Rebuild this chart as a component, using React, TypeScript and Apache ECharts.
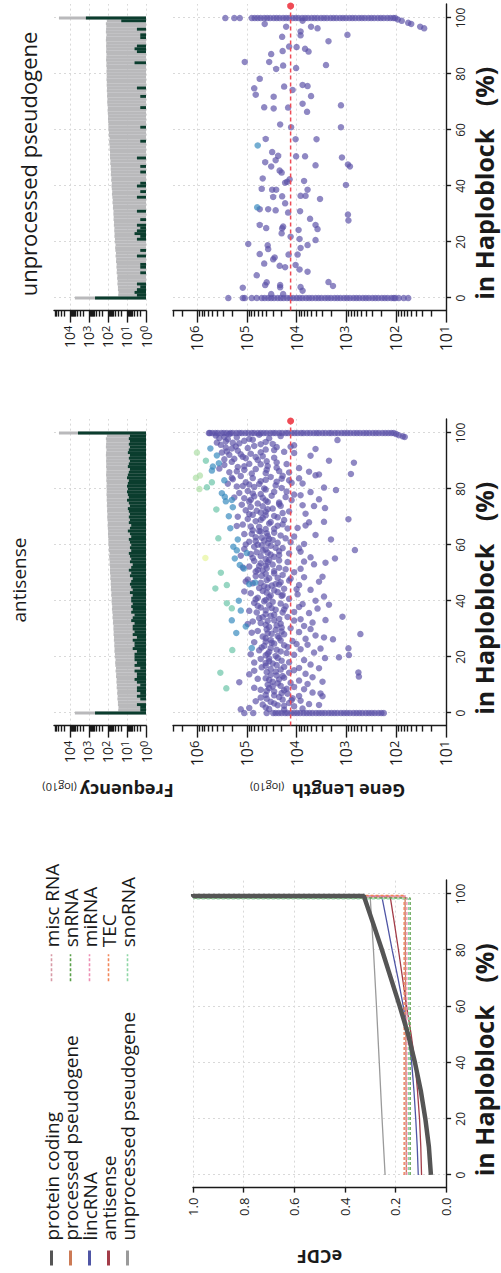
import React, { useEffect, useRef } from 'react';
import * as echarts from 'echarts';

// The figure is laid out in landscape (1273 x 501) and turned a quarter turn
// counter-clockwise to fill the 501 x 1273 page, as in the reference.
const PAGE_W = 501;
const PAGE_H = 1273;
const FIG_W = 1273;
const FIG_H = 501;

const FONT = 'Open Sans';
const INK = '#1a1a1a';
const PURPLE = '#5a4fa6';
const BLUE = '#3288bd';
const TEAL = '#66c2a5';
const LIGHT_GREEN = '#abdda4';
const YELLOW = '#e6f598';
const RED = '#ef4b55';
const BAR_GRAY = '#b9b9bb';
const BAR_GREEN = '#0b3d2e';

// ---------------- eCDF panel ----------------
const ecdfNames = [
  'protein coding', 'processed pseudogene', 'lincRNA', 'antisense', 'unprocessed pseudogene',
  'misc RNA', 'snRNA', 'miRNA', 'TEC', 'snoRNA',
];
const ecdfColors = ['#555555', '#cc7a55', '#4f55a5', '#a33c48', '#9a9a9a', '#d89aa6', '#5aa04a', '#ee8fb4', '#f2875a', '#8fd6a6'];

const ecdfProteinCoding = [[0, 0.06], [10, 0.068], [20, 0.082], [30, 0.1], [40, 0.123], [50, 0.15], [60, 0.183], [70, 0.218], [80, 0.253], [90, 0.29], [99.3, 0.325], [99.3, 1.0], [100, 1.0]];
const ecdfProcessedPseudogene = [[0, 0.157], [50, 0.159], [99.0, 0.162], [99.0, 1.0]];
const ecdfLincRNA = [[0, 0.11], [10, 0.114], [20, 0.12], [30, 0.127], [40, 0.136], [50, 0.15], [60, 0.169], [70, 0.19], [80, 0.213], [90, 0.234], [99.2, 0.254], [99.2, 1.0]];
const ecdfAntisense = [[0, 0.097], [10, 0.1], [20, 0.105], [30, 0.113], [40, 0.123], [50, 0.138], [60, 0.156], [70, 0.172], [80, 0.188], [90, 0.205], [99.2, 0.221], [99.2, 1.0]];
const ecdfUnprocessedPseudogene = [[0, 0.241], [20, 0.253], [40, 0.264], [60, 0.275], [80, 0.287], [99.1, 0.3], [99.1, 1.0]];
const ecdfMiscRNA = [[0, 0.163], [99.0, 0.163], [99.0, 1.0]];
const ecdfSnRNA = [[0, 0.142], [98.6, 0.142], [98.6, 1.0]];
const ecdfMiRNA = [[0, 0.155], [99.3, 0.155], [99.3, 1.0]];
const ecdfTEC = [[0, 0.166], [99.5, 0.166], [99.5, 1.0]];
const ecdfSnoRNA = [[0, 0.148], [98.3, 0.148], [98.3, 1.0]];
const ecdfData = [ecdfProteinCoding, ecdfProcessedPseudogene, ecdfLincRNA, ecdfAntisense, ecdfUnprocessedPseudogene, ecdfMiscRNA, ecdfSnRNA, ecdfMiRNA, ecdfTEC, ecdfSnoRNA];

// ---------------- axes ----------------
const haploTicks = [0, 20, 40, 60, 80, 100];
const freqDecades = [0, 1, 2, 3, 4];          // log10 frequency
const geneDecades = [1, 2, 3, 4, 5, 6];       // log10 gene length

// ---------------- frequency bars (one bin per % in haploblock) ----------------
const bins = Array.from({ length: 101 }, (_, i) => i);
const allGenesCounts = [
  5500,
  29, 28, 30, 30, 32, 31, 33, 32, 35, 34,
  36, 35, 38, 37, 40, 38, 41, 42, 40, 44,
  43, 46, 45, 47, 46, 49, 48, 51, 50, 52,
  51, 55, 54, 58, 56, 59, 62, 60, 63, 65,
  63, 68, 66, 71, 69, 72, 71, 76, 74, 78,
  79, 78, 83, 81, 85, 87, 83, 91, 89, 93,
  95, 93, 98, 100, 98, 102, 105, 102, 107, 110,
  107, 112, 110, 115, 112, 117, 115, 120, 117, 117,
  120, 117, 123, 120, 126, 123, 120, 126, 123, 126,
  123, 129, 126, 120, 129, 126, 123, 129, 115,
  38000,
];
const antisenseCounts = [
  480,
  2, 2, 3, 1, 2, 3, 2, 3, 3, 2,
  3, 4, 3, 3, 4, 2, 4, 3, 4, 4,
  4, 3, 5, 4, 4, 5, 3, 5, 4, 5,
  5, 4, 6, 5, 4, 6, 5, 6, 5, 6,
  6, 5, 7, 5, 6, 7, 6, 5, 7, 6,
  8, 6, 5, 7, 6, 7, 8, 6, 7, 6,
  7, 8, 6, 7, 9, 7, 6, 8, 7, 8,
  7, 8, 9, 7, 8, 10, 8, 9, 10, 9,
  10, 9, 8, 10, 9, 8, 7, 9, 8, 7,
  8, 7, 9, 8, 7, 8, 7, 8, 7,
  3800,
];
const unprocessedCounts = [
  480,
  3, 4, 3, 2, 3, 1, 0, 1, 2, 1,
  2, 2, 1, 1, 3, 1, 2, 1, 1, 1,
  3, 2, 4, 3, 2, 3, 1, 2, 1, 1,
  3, 1, 1, 0, 1, 3, 1, 2, 1, 3,
  2, 1, 1, 1, 2, 1, 2, 1, 1, 3,
  1, 1, 0, 1, 1, 2, 1, 0, 1, 1,
  2, 1, 0, 1, 1, 1, 1, 2, 1, 1,
  1, 2, 1, 1, 3, 1, 1, 1, 0, 1,
  1, 1, 1, 4, 1, 1, 1, 3, 4, 3,
  1, 1, 2, 2, 1, 3, 1, 1, 20,
  1450,
];

// ---------------- gene length scatter (x = % in haploblock, y = log10 gene length) ----------------
const antisenseAt100 = [5.76, 5.74, 5.69, 5.63, 5.58, 5.51, 5.46, 5.4, 5.33, 5.28, 5.21, 5.15, 5.1, 5.03, 4.97, 4.9, 4.85, 4.78, 4.72, 4.66, 4.6, 4.53, 4.47, 4.42, 4.35, 4.29, 4.22, 4.17, 4.1, 4.04, 3.98, 3.91, 3.86, 3.79, 3.73, 3.66, 3.6, 3.55, 3.48, 3.42, 3.35, 3.3, 3.23, 3.17, 3.1, 3.04, 2.98, 2.92, 2.85, 2.79, 2.73, 2.66, 2.6, 2.54, 2.47, 2.41, 2.35, 2.28, 2.22, 2.16, 2.1, 2.05];
const antisenseAt0 = [5.05, 4.87, 4.6, 4.47, 4.42, 4.36, 4.3, 4.23, 4.18, 4.11, 4.05, 3.99, 3.93, 3.86, 3.8, 3.74, 3.68, 3.61, 3.55, 3.49, 3.43, 3.36, 3.3, 3.24, 3.18, 3.11, 3.05, 2.99, 2.93, 2.86, 2.8, 2.74, 2.68, 2.61, 2.55, 2.49, 2.43, 2.36, 2.3, 2.25];
const antisenseTail = [[99.6, 2.0], [99.2, 1.95], [98.8, 1.87], [98.6, 1.83]];
const antisenseCloud = [
  [99.1, 5.62], [98.6, 5.45], [98.2, 5.55], [97.8, 5.38], [97.5, 3.18], [97.2, 5.05], [96.8, 4.62], [96.5, 5.28], [96.1, 4.48], [95.8, 5.52], [95.4, 4.85], [95.1, 4.12], [99.4, 4.75], [98.9, 4.32], [97.9, 4.95], [96.3, 5.15], [95.6, 4.05],
  [94.8, 5.42], [94.5, 5.3], [94.1, 4.62], [93.7, 5.18], [93.3, 4.25], [93.0, 5.5], [92.6, 4.92], [92.2, 5.35], [91.9, 3.72], [91.5, 5.08], [91.2, 4.45], [90.8, 5.25], [90.4, 4.78], [90.1, 3.35], [92.9, 4.05], [94.3, 3.62], [91.7, 4.68],
  [89.7, 5.3], [89.4, 2.85], [89.0, 4.95], [88.6, 5.45], [88.2, 4.58], [87.9, 5.18], [87.5, 3.95], [87.1, 4.82], [86.8, 5.05], [86.4, 4.35], [86.0, 5.35], [85.7, 4.62], [85.4, 2.91], [85.2, 3.55], [88.9, 4.2], [87.3, 5.55], [86.2, 3.75],
  [84.6, 5.12], [84.3, 4.52], [83.9, 4.88], [83.5, 5.28], [83.1, 4.15], [82.8, 4.72], [82.4, 5.02], [82.0, 3.88], [81.6, 4.95], [81.3, 4.42], [80.9, 5.2], [80.5, 3.45], [80.2, 4.65], [79.6, 3.21], [84.9, 3.62], [83.7, 4.3], [81.9, 5.38],
  [79.3, 4.98], [79.0, 4.45], [78.6, 5.15], [78.2, 4.72], [77.8, 3.92], [77.4, 4.85], [77.1, 4.22], [76.7, 5.05], [76.3, 3.55], [75.9, 4.62], [75.5, 4.95], [75.2, 4.35], [78.9, 3.72], [77.0, 5.25], [76.0, 4.1],
  [74.8, 4.78], [74.4, 5.1], [74.0, 4.32], [73.6, 4.92], [73.2, 3.43], [72.8, 4.58], [72.4, 5.02], [72.0, 4.15], [71.6, 4.72], [71.2, 3.82], [70.8, 4.88], [70.4, 4.45], [70.1, 5.18], [73.9, 3.65], [71.9, 4.62], [69.2, 2.96],
  [69.7, 4.68], [69.3, 4.98], [68.9, 4.25], [68.5, 4.82], [68.1, 3.75], [67.7, 4.55], [67.3, 5.08], [66.9, 4.38], [66.5, 4.75], [66.1, 3.98], [65.7, 4.62], [65.3, 4.88], [68.3, 3.45], [66.8, 5.2], [65.9, 4.18],
  [64.8, 4.72], [64.4, 4.45], [64.0, 4.9], [63.6, 3.62], [63.2, 4.58], [62.8, 4.82], [62.4, 4.22], [62.0, 3.31], [61.6, 4.65], [61.2, 4.95], [60.8, 4.38], [60.4, 3.85], [60.1, 4.78], [63.9, 5.05], [62.2, 4.55], [61.0, 4.12],
  [59.7, 4.52], [59.4, 4.85], [58.9, 4.28], [58.2, 2.83], [58.0, 4.68], [57.6, 3.92], [57.2, 4.58], [56.8, 4.92], [56.4, 4.35], [56.0, 4.72], [55.6, 3.72], [55.2, 3.23], [55.0, 4.62], [58.6, 5.05], [57.0, 4.15], [56.2, 5.12],
  [54.7, 4.55], [54.3, 4.85], [53.9, 4.18], [53.5, 4.72], [53.1, 3.65], [52.7, 4.62], [52.3, 4.95], [51.9, 4.35], [51.5, 3.92], [51.1, 4.78], [50.7, 4.45], [50.3, 4.05], [53.7, 3.42], [52.0, 5.08], [50.9, 4.68],
  [49.7, 4.62], [49.3, 4.28], [48.9, 4.82], [48.5, 3.85], [48.1, 4.55], [47.7, 4.98], [47.3, 4.15], [46.9, 3.55], [46.5, 4.72], [46.1, 4.42], [45.7, 3.95], [45.3, 4.65], [48.7, 3.48], [47.0, 5.02], [45.9, 4.35],
  [44.8, 4.58], [44.4, 4.25], [44.0, 3.72], [43.6, 4.68], [43.2, 4.38], [42.8, 4.92], [42.4, 3.98], [42.0, 4.52], [41.6, 3.45], [41.2, 4.78], [40.8, 4.15], [40.4, 4.62], [40.1, 3.62], [43.4, 5.05], [41.8, 4.3],
  [39.7, 4.48], [39.3, 4.85], [38.9, 3.88], [38.5, 4.55], [38.1, 4.22], [37.7, 4.72], [37.3, 3.58], [36.9, 4.42], [36.5, 4.95], [36.1, 4.05], [35.7, 3.75], [35.3, 4.62], [38.7, 3.35], [37.0, 4.25], [35.9, 4.8],
  [34.4, 3.08], [34.7, 4.52], [34.3, 4.18], [33.9, 4.75], [33.5, 3.92], [33.1, 4.45], [32.7, 4.88], [32.3, 3.68], [31.9, 4.32], [31.5, 4.62], [31.1, 3.85], [30.7, 4.55], [30.3, 4.12], [33.2, 3.42], [31.8, 4.98], [30.0, 3.72],
  [29.7, 4.42], [29.3, 4.78], [28.9, 3.95], [28.2, 2.72], [28.5, 4.58], [28.1, 4.25], [27.7, 3.62], [27.3, 4.68], [26.9, 4.35], [26.5, 3.82], [26.3, 3.27], [26.1, 4.52], [25.7, 4.08], [25.3, 4.85], [27.0, 3.45], [25.5, 4.62],
  [24.8, 4.45], [24.4, 3.78], [24.0, 4.65], [23.6, 4.18], [23.1, 2.96], [23.2, 4.52], [22.8, 3.92], [22.4, 4.75], [22.0, 4.32], [21.6, 3.65], [21.2, 4.58], [20.8, 4.05], [20.7, 2.95], [20.4, 4.42], [23.0, 3.52], [21.0, 4.92],
  [19.9, 3.15], [19.6, 3.43], [19.7, 4.38], [19.3, 4.72], [18.9, 3.85], [18.5, 4.55], [18.1, 4.15], [17.7, 4.48], [17.3, 3.72], [16.9, 4.62], [16.5, 4.25], [16.1, 3.95], [15.7, 4.52], [15.3, 4.05], [18.0, 4.85], [16.0, 3.55],
  [14.5, 2.76], [13.0, 2.75], [14.8, 4.42], [14.4, 4.15], [14.0, 3.82], [13.6, 4.52], [13.2, 4.28], [12.8, 3.68], [12.4, 4.62], [12.0, 4.35], [11.6, 3.95], [11.2, 3.48], [11.2, 4.48], [10.8, 4.12], [10.4, 3.78], [10.1, 4.58], [13.8, 4.95], [11.0, 5.15],
  [9.7, 4.32], [9.3, 4.05], [8.9, 4.55], [8.5, 3.85], [8.1, 4.25], [7.7, 4.45], [7.3, 3.68], [6.9, 4.18], [6.5, 4.62], [6.1, 3.95], [6.0, 3.48], [5.7, 4.35], [5.3, 4.08], [9.0, 4.85], [7.0, 3.52], [5.5, 4.72],
  [4.8, 4.28], [4.4, 3.92], [4.0, 4.52], [3.6, 4.15], [3.2, 3.75], [2.8, 4.38], [2.4, 4.05], [2.0, 4.62], [1.6, 3.88], [1.3, 5.12], [1.2, 4.25], [4.2, 4.82], [2.9, 3.55], [1.8, 4.95],
];
const antisenseCloudCore = [
  [98.4, 5.2], [97.6, 4.88], [97.0, 5.42], [96.0, 4.72], [95.2, 5.22], [94.6, 4.98], [93.9, 4.45], [93.4, 5.4], [92.4, 5.12], [91.4, 4.82], [90.6, 5.45], [99.6, 5.35], [98.1, 4.55], [96.6, 5.6], [95.0, 4.4], [93.1, 4.72], [91.0, 5.02], [89.9, 4.6],
  [89.5, 4.4], [88.8, 4.72], [88.1, 5.05], [87.6, 4.4], [86.9, 4.6], [86.3, 5.2], [85.5, 4.9], [84.7, 4.28], [84.0, 5.3], [83.3, 4.62], [82.6, 4.4], [81.8, 4.75], [81.1, 5.08], [80.4, 4.3], [85.9, 4.15], [83.8, 3.95], [82.2, 4.1], [80.7, 4.85],
  [79.8, 4.62], [79.1, 4.2], [78.4, 4.88], [77.6, 4.5], [76.9, 4.68], [76.2, 4.92], [75.4, 4.58], [74.6, 4.35], [73.8, 4.68], [73.0, 4.48], [72.2, 4.8], [71.4, 4.28], [70.6, 4.62], [78.0, 4.05], [74.2, 3.88], [71.0, 4.95],
  [69.9, 4.38], [69.0, 4.72], [68.2, 4.52], [67.4, 4.28], [66.6, 4.92], [65.8, 4.45], [65.0, 4.75], [64.2, 4.6], [63.4, 4.32], [62.6, 4.7], [61.8, 4.48], [61.4, 4.82], [60.6, 4.58], [67.0, 3.82], [63.0, 4.05], [60.2, 5.02],
  [59.9, 4.7], [59.0, 4.42], [58.4, 4.62], [57.8, 4.35], [57.4, 4.8], [56.6, 4.52], [55.8, 4.45], [55.4, 4.88], [54.5, 4.35], [53.8, 4.58], [53.0, 4.48], [52.5, 4.75], [51.7, 4.6], [51.3, 4.22], [50.5, 4.82], [58.8, 3.95], [54.1, 3.85],
  [49.9, 4.45], [49.0, 4.7], [48.3, 4.38], [47.5, 4.6], [46.7, 4.32], [46.3, 4.88], [45.5, 4.5], [44.6, 4.75], [43.8, 4.45], [43.0, 4.6], [42.2, 4.28], [41.4, 4.55], [40.6, 4.82], [48.0, 4.12], [44.2, 4.0],
  [39.9, 4.65], [39.1, 4.32], [38.3, 4.78], [37.5, 4.5], [36.7, 4.62], [35.9, 4.28], [35.1, 4.45], [34.2, 4.68], [33.6, 4.35], [32.9, 4.58], [32.1, 4.72], [31.3, 4.4], [30.5, 4.3], [37.9, 3.95], [33.0, 4.05],
  [29.9, 4.6], [29.1, 4.3], [28.3, 4.5], [27.5, 4.38], [26.7, 4.62], [25.9, 4.32], [25.1, 4.5], [24.2, 4.25], [23.4, 4.7], [22.6, 4.4], [21.8, 4.55], [21.4, 4.2], [20.6, 4.62], [28.7, 4.9], [24.6, 4.0],
  [19.5, 4.55], [18.7, 4.3], [17.9, 4.62], [17.1, 4.4], [16.3, 4.7], [15.5, 4.32], [14.6, 4.6], [13.4, 4.4], [12.6, 4.25], [11.8, 4.55], [10.6, 4.38], [15.1, 4.85], [12.2, 4.78],
  [9.5, 4.48], [8.7, 4.2], [7.9, 4.6], [7.1, 4.3], [6.3, 4.45], [5.1, 4.6], [4.6, 4.1], [3.4, 4.45], [2.6, 4.25], [1.4, 4.55], [8.3, 4.72], [3.0, 4.68],
];
const antisenseBlue = [[94.5, 5.73], [88.0, 5.68], [86.6, 5.7], [89.2, 5.56], [83.1, 5.45], [78.5, 5.5], [77.2, 5.44], [75.6, 5.42], [76.1, 5.3], [66.0, 5.33], [59.4, 5.27], [58.1, 5.2], [55.2, 5.24], [52.9, 5.14], [51.6, 5.06], [57.1, 5.0], [46.0, 4.95], [46.6, 4.83], [40.1, 5.16], [36.6, 5.12], [33.1, 5.3], [28.6, 5.21], [23.2, 4.9], [30.9, 5.02], [62.0, 5.18], [70.3, 5.36], [73.5, 5.28], [92.0, 5.6]];
const antisenseTeal = [[90.1, 5.82], [80.6, 5.8], [82.4, 5.7], [62.4, 5.57], [44.5, 5.63], [72.7, 5.61], [50.1, 5.52], [45.7, 5.4], [37.4, 5.3], [22.5, 5.29], [39.2, 5.4], [14.4, 5.53], [8.8, 5.41]];
const antisenseLightGreen = [[84.0, 6.02], [84.8, 5.94], [80.0, 5.95], [93.0, 6.0]];
const antisenseYellow = [[55.4, 5.83]];
const antisenseMedianLog10 = 4.12;

const unprocessedAt100 = [5.43, 5.25, 5.14, 4.9, 4.84, 4.78, 4.72, 4.65, 4.59, 4.53, 4.46, 4.4, 4.34, 4.27, 4.21, 4.15, 4.08, 4.02, 3.96, 3.89, 3.83, 3.77, 3.7, 3.64, 3.58, 3.51, 3.45, 3.39, 3.32, 3.26, 3.2, 3.13, 3.07, 3.01, 2.94, 2.88, 2.82, 2.75, 2.69, 2.63, 2.56, 2.5, 2.44, 2.37, 2.31, 2.25, 2.18, 2.12, 2.06, 2.02];
const unprocessedAt0 = [5.37, 5.08, 5.04, 4.9, 4.8, 4.7, 4.64, 4.57, 4.51, 4.45, 4.38, 4.32, 4.26, 4.19, 4.13, 4.07, 4.0, 3.94, 3.88, 3.81, 3.75, 3.69, 3.62, 3.56, 3.5, 3.43, 3.37, 3.31, 3.24, 3.18, 3.12, 3.05, 2.99, 2.93, 2.86, 2.8, 2.74, 2.67, 2.61, 2.55, 2.48, 2.42, 2.36, 2.29, 2.23, 2.17, 2.1, 2.05, 2.02, 1.95, 1.85, 1.76];
const unprocessedTail = [[99.5, 1.97], [99.0, 1.89], [98.3, 1.76], [97.9, 1.7], [96.9, 1.52], [96.3, 1.44]];
const unprocessedCloud = [
  [97.9, 4.64], [96.9, 4.21], [95.2, 3.92], [99.05, 3.88], [96.9, 3.71], [96.3, 3.58], [93.8, 3.92], [93.3, 4.29], [94.0, 2.98], [91.7, 3.36], [89.8, 4.15], [89.6, 4.0], [89.0, 3.83], [88.0, 3.76], [87.1, 4.51], [88.2, 4.28],
  [84.3, 5.04], [84.3, 4.55], [83.0, 4.27], [82.1, 4.01], [81.8, 4.41], [83.2, 3.41], [78.3, 4.74], [74.9, 4.85], [72.6, 4.82], [75.5, 4.25], [74.3, 4.08], [76.1, 3.88], [75.7, 3.78], [72.1, 3.71], [71.9, 4.46],
  [68.1, 4.65], [67.7, 4.46], [68.0, 4.17], [69.4, 3.88], [66.5, 3.79], [68.8, 3.11], [62.0, 4.33], [61.0, 4.11], [61.0, 3.11], [56.8, 4.62], [56.7, 4.02], [56.7, 3.6], [52.1, 4.49], [50.8, 4.37], [49.2, 4.42],
  [48.5, 4.63], [47.0, 4.51], [50.6, 4.01], [50.6, 3.83], [47.4, 3.62], [50.2, 3.09], [47.7, 2.97], [47.0, 2.93], [45.5, 4.34], [44.8, 4.3], [41.5, 4.19], [41.2, 4.23], [42.4, 4.14], [42.7, 4.68], [41.8, 3.85],
  [40.4, 3.01], [39.0, 4.7], [38.7, 4.49], [38.7, 4.41], [36.3, 4.29], [36.1, 4.47], [36.5, 3.92], [36.5, 3.82], [38.7, 3.78], [35.4, 3.53], [33.8, 4.23], [31.7, 4.74], [31.7, 4.57], [31.3, 4.42], [30.5, 4.17],
  [31.0, 3.93], [28.3, 3.73], [29.8, 2.97], [27.7, 2.96], [26.1, 4.74], [25.0, 4.61], [24.9, 4.29], [25.5, 4.27], [23.1, 4.3], [21.9, 4.12], [24.3, 3.96], [21.1, 3.94], [26.1, 3.62], [24.6, 3.58], [20.7, 3.62],
  [19.3, 4.97], [18.8, 4.58], [17.5, 4.57], [18.9, 3.78], [17.9, 3.92], [15.7, 4.74], [14.5, 4.44], [13.8, 4.47], [15.5, 4.16], [15.5, 3.98], [12.3, 4.65], [11.5, 4.34], [11.0, 4.23], [11.8, 4.02], [10.2, 3.94],
  [9.4, 3.78], [8.1, 4.8], [4.6, 4.63], [5.6, 4.6], [3.7, 5.08], [4.6, 4.33], [3.8, 4.33], [3.9, 3.92], [2.6, 3.88], [5.7, 3.36], [4.3, 3.27], [1.4, 4.51], [1.4, 4.27],
];
const unprocessedBlue = [[54.5, 4.78], [32.4, 4.79]];
const unprocessedMedianLog10 = 4.12;

const medianMarkerX = 104.3;
const HAPLO_MIN = -4.5;
const HAPLO_MAX = 105;
const FREQ_MAX = 4.84;
const GENE_MIN = 1;
const GENE_MAX = 6.48;

function minorLogTicks(lo: number, hi: number) {
  const out: number[] = [];
  for (let n = Math.floor(lo); n <= Math.ceil(hi); n++) {
    for (let k = 2; k <= 9; k++) {
      const v = n + Math.log10(k);
      if (v > lo && v < hi) out.push(Number(v.toFixed(4)));
    }
  }
  return out;
}

const GRID_LINE = { color: '#d9d9d9', width: 1, type: [2, 3] };
const AXIS_LINE = { color: INK, width: 1.4 };

function powLabel(size: number) {
  return {
    formatter: (v: number) => `10{sup|${Math.round(v)}}`,
    rich: {
      sup: { fontSize: size - 3, verticalAlign: 'top', fontFamily: FONT, color: INK, lineHeight: size + 2 },
    },
    fontSize: size,
    lineHeight: size + 2,
    color: INK,
    fontFamily: FONT,
    showMinLabel: true,
    showMaxLabel: true,
  };
}

function haploAxis(gridIndex: number, visible: boolean) {
  return {
    type: 'value',
    gridIndex,
    min: HAPLO_MIN,
    max: HAPLO_MAX,
    axisLine: { show: visible, onZero: false, lineStyle: AXIS_LINE },
    axisTick: { show: visible, customValues: haploTicks, length: 5, lineStyle: AXIS_LINE },
    axisLabel: { show: visible, customValues: haploTicks, fontSize: 12, margin: 8, color: '#222', fontFamily: FONT, showMinLabel: true, showMaxLabel: true },
    splitLine: { show: true, lineStyle: GRID_LINE },
    name: visible ? 'in Haploblock {p|(%)}' : '',
    nameLocation: 'middle',
    nameGap: 22,
    nameTextStyle: {
      fontSize: 25, fontWeight: 'bold', color: INK, fontFamily: FONT, padding: [0, 52, 0, 0],
      rich: { p: { fontSize: 25, fontWeight: 'bold', color: INK, fontFamily: FONT, padding: [0, 0, 0, 16] } },
    },
  };
}

function logAxisMajor(gridIndex: number, min: number, max: number, ticks: number[], name: string, namePad: number, labelSize: number) {
  return {
    type: 'value',
    gridIndex,
    position: 'left',
    min,
    max,
    axisLine: { show: true, onZero: false, lineStyle: AXIS_LINE },
    axisTick: { show: true, customValues: ticks, length: 12, lineStyle: AXIS_LINE },
    axisLabel: { show: true, customValues: ticks, margin: 15, ...powLabel(labelSize) },
    splitLine: { show: true, lineStyle: GRID_LINE },
    name,
    nameLocation: 'middle',
    nameRotate: 90,
    nameGap: 56,
    nameTextStyle: {
      fontSize: 18, fontWeight: 'bold', color: INK, fontFamily: FONT, padding: [0, namePad, 0, 0],
      rich: { sub: { fontSize: 11, fontWeight: 'normal', color: INK, fontFamily: FONT, verticalAlign: 'bottom', padding: [0, 0, 0, 3] } },
    },
  };
}

function logAxisMinor(gridIndex: number, min: number, max: number) {
  return {
    type: 'value',
    gridIndex,
    position: 'left',
    min,
    max,
    axisLine: { show: false, onZero: false },
    axisTick: { show: true, customValues: minorLogTicks(min, max), length: 6, lineStyle: AXIS_LINE },
    axisLabel: { show: false },
    splitLine: { show: false },
  };
}

function buildOption() {
  const ecdfSeries = ecdfNames.map((name, i) => ({
    type: 'line',
    name,
    xAxisIndex: 0,
    yAxisIndex: 0,
    data: ecdfData[i],
    symbol: 'none',
    silent: true,
    z: i === 0 ? 6 : 3,
    itemStyle: { color: ecdfColors[i] },
    lineStyle: {
      color: ecdfColors[i],
      width: i === 0 ? 4.5 : 1.3,
      type: i >= 5 ? [3, 2] : 'solid',
    },
  }));

  const barPair = (xAxisIndex: number, yAxisIndex: number, counts: number[]) => [
    {
      type: 'bar', xAxisIndex, yAxisIndex, silent: true, barWidth: 2.9, barGap: '-100%',
      itemStyle: { color: BAR_GRAY },
      data: bins.map((b, i) => [b, Math.log10(Math.max(allGenesCounts[i], 1))]),
    },
    {
      type: 'bar', xAxisIndex, yAxisIndex, silent: true, barWidth: 2.9, barGap: '-100%',
      itemStyle: { color: BAR_GREEN },
      data: bins.map((b, i) => [b, Math.log10(Math.max(counts[i], 1))]),
    },
  ];

  const dots = (xAxisIndex: number, yAxisIndex: number, data: number[][], color: string, z = 2) => ({
    type: 'scatter', xAxisIndex, yAxisIndex, silent: true, symbolSize: 6.5, z,
    itemStyle: { color, opacity: 0.68 },
    data,
  });

  const medianLine = (xAxisIndex: number, yAxisIndex: number, v: number) => ({
    type: 'line', xAxisIndex, yAxisIndex, silent: true, z: 8,
    showSymbol: true,
    data: [
      { value: [HAPLO_MIN, v], symbol: 'none' },
      { value: [medianMarkerX, v], symbol: 'circle', symbolSize: 7 },
    ],
    lineStyle: { color: RED, width: 1.5, type: [4, 3] },
    itemStyle: { color: RED },
  });

  const purpleAntisense = [
    ...antisenseCloud,
    ...antisenseCloudCore,
    ...antisenseAt100.map((v) => [100, v]),
    ...antisenseAt0.map((v) => [0, v]),
    ...antisenseTail,
  ];
  const purpleUnprocessed = [
    ...unprocessedCloud,
    ...unprocessedAt100.map((v) => [100, v]),
    ...unprocessedAt0.map((v) => [0, v]),
    ...unprocessedTail,
  ];

  const legendText = { fontSize: 19, lineHeight: 18.7, color: INK, fontFamily: FONT };

  return {
    animation: false,
    backgroundColor: '#ffffff',
    textStyle: { fontFamily: FONT, color: INK },
    title: [
      { text: 'antisense', left: 693, top: 9, textAlign: 'center', padding: 0, textStyle: { fontSize: 19, fontWeight: 'normal', color: INK, fontFamily: FONT } },
      { text: 'unprocessed pseudogene', left: 1109, top: 17, textAlign: 'center', padding: 0, textStyle: { fontSize: 22, fontWeight: 'normal', color: INK, fontFamily: FONT } },
    ],
    legend: [
      {
        data: ecdfNames.slice(0, 5), orient: 'vertical', left: 6, top: 42, padding: 0,
        itemWidth: 15, itemHeight: 10, itemGap: 0, selectedMode: false,
        itemStyle: { opacity: 0 }, lineStyle: { width: 3 },
        textStyle: { ...legendText, padding: [0, 0, 0, 5] },
      },
      {
        data: ecdfNames.slice(5), orient: 'vertical', left: 291, top: 42, padding: 0,
        itemWidth: 27, itemHeight: 10, itemGap: 0, selectedMode: false,
        itemStyle: { opacity: 0 }, lineStyle: { width: 1.6 },
        textStyle: { ...legendText, padding: [0, 0, 0, 2] },
      },
    ],
    grid: [
      { left: 85.4, top: 193, width: 307.6, height: 255 },
      { left: 547.4, top: 54, width: 306.6, height: 92 },
      { left: 547.4, top: 173, width: 306.6, height: 275 },
      { left: 962.4, top: 54, width: 306.6, height: 92 },
      { left: 962.4, top: 173, width: 306.6, height: 275 },
    ],
    xAxis: [
      haploAxis(0, true),
      haploAxis(1, false),
      haploAxis(2, true),
      haploAxis(3, false),
      haploAxis(4, true),
    ],
    yAxis: [
      {
        type: 'value', gridIndex: 0, position: 'left', min: 0, max: 1, interval: 0.2,
        axisLine: { show: true, onZero: false, lineStyle: AXIS_LINE },
        axisTick: { show: true, length: 5, lineStyle: AXIS_LINE },
        axisLabel: { formatter: (v: number) => v.toFixed(1), fontSize: 13, margin: 10, color: '#222', fontFamily: FONT, showMinLabel: true, showMaxLabel: true },
        splitLine: { show: true, lineStyle: GRID_LINE },
        name: 'eCDF', nameLocation: 'middle', nameRotate: 90, nameGap: 60,
        nameTextStyle: { fontSize: 18, fontWeight: 'bold', color: INK, fontFamily: FONT },
      },
      logAxisMajor(1, 0, FREQ_MAX, freqDecades, 'Frequency{sub|(log10)}', 16, 14),
      logAxisMinor(1, 0, FREQ_MAX),
      logAxisMajor(2, GENE_MIN, GENE_MAX, geneDecades, 'Gene Length {sub|(log10)}', 36, 16),
      logAxisMinor(2, GENE_MIN, GENE_MAX),
      logAxisMajor(3, 0, FREQ_MAX, freqDecades, '', 0, 14),
      logAxisMinor(3, 0, FREQ_MAX),
      logAxisMajor(4, GENE_MIN, GENE_MAX, geneDecades, '', 0, 16),
      logAxisMinor(4, GENE_MIN, GENE_MAX),
    ],
    series: [
      ...ecdfSeries,
      ...barPair(1, 1, antisenseCounts),
      dots(2, 3, purpleAntisense, PURPLE),
      dots(2, 3, antisenseBlue, BLUE, 3),
      dots(2, 3, antisenseTeal, TEAL, 3),
      dots(2, 3, antisenseLightGreen, LIGHT_GREEN, 3),
      dots(2, 3, antisenseYellow, YELLOW, 3),
      medianLine(2, 3, antisenseMedianLog10),
      ...barPair(3, 5, unprocessedCounts),
      dots(4, 7, purpleUnprocessed, PURPLE),
      dots(4, 7, unprocessedBlue, BLUE, 3),
      medianLine(4, 7, unprocessedMedianLog10),
    ],
  };
}

export default function App() {
  const ref = useRef<HTMLDivElement>(null);
  useEffect(() => {
    if (!ref.current) return;
    const chart = echarts.init(ref.current, null, { renderer: 'svg', width: FIG_W, height: FIG_H });
    chart.setOption(buildOption() as any);
    return () => chart.dispose();
  }, []);
  return (
    <div style={{ position: 'absolute', left: 0, top: 0, width: PAGE_W, height: PAGE_H, overflow: 'hidden', background: '#ffffff' }}>
      <div
        ref={ref}
        style={{
          position: 'absolute', left: 0, top: 0, width: FIG_W, height: FIG_H,
          transformOrigin: '0 0', transform: `translate(0px, ${FIG_W}px) rotate(-90deg)`,
        }}
      />
    </div>
  );
}
